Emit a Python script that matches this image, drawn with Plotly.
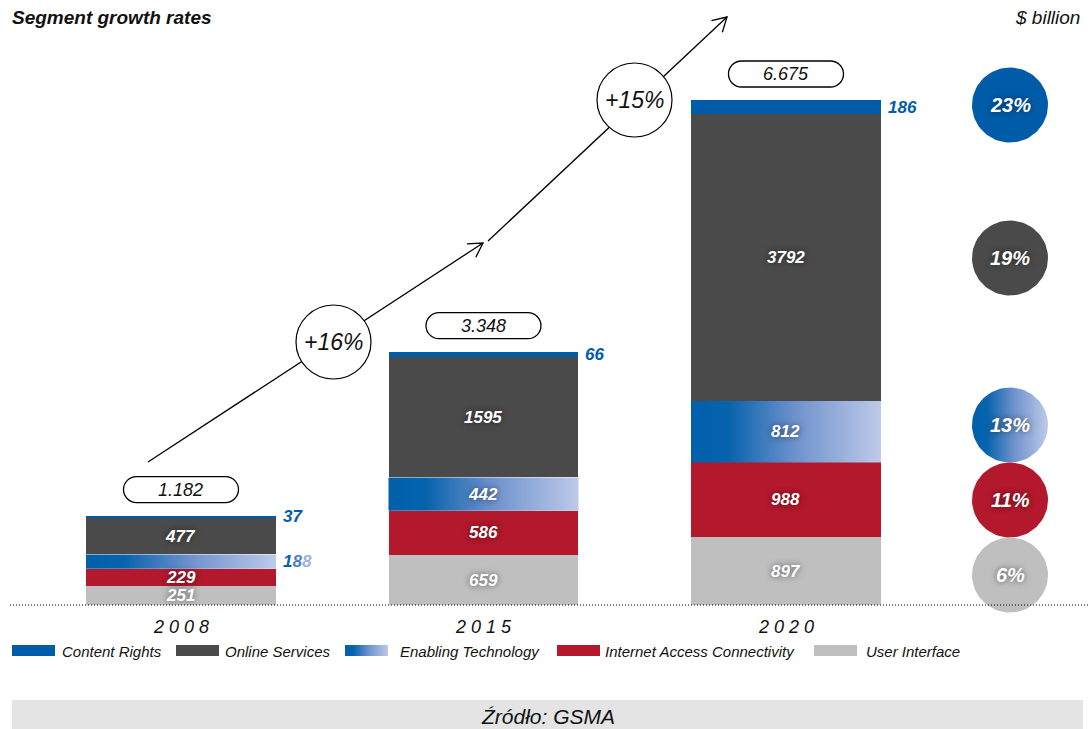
import numpy as np
import plotly.graph_objects as go

# ---- data ($ billion) ----
years = ["2 0 0 8", "2 0 1 5", "2 0 2 0"]
user_interface = [251, 659, 897]
internet_access = [229, 586, 988]
enabling_tech = [188, 442, 812]
online_services = [477, 1595, 3792]
content_rights = [37, 66, 186]

segment_names = ["Content Rights", "Online Services", "Enabling Technology",
                 "Internet Access Connectivity", "User Interface"]
segment_growth = ["23%", "19%", "13%", "11%", "6%"]
period_growth = ["+16%", "+15%"]

# ---- styles ----
BLUE = "#005CA9"
DARK = "#4A4A4A"
RED = "#B3182C"
GRAY = "#BFBFBF"
GRAD = [[0, "#0060AA"], [0.2, "#0863AD"], [0.55, "#6F92CD"], [1, "#BDC9E9"]]
FONT = "Liberation Sans, Arial, Helvetica, sans-serif"
GLOW = "0px 0px 6px rgba(0,0,0,0.55)"

W, H = 1088, 729
BAR_W = 0.628
xs = np.arange(len(years))
totals = [sum(v) for v in zip(user_interface, internet_access, enabling_tech,
                              online_services, content_rights)]

fig = go.Figure()

# stacked bars, bottom to top
stack = [
    ("User Interface", user_interface, GRAY),
    ("Internet Access Connectivity", internet_access, RED),
    ("Enabling Technology", enabling_tech, "rgba(0,0,0,0)"),
    ("Online Services", online_services, DARK),
    ("Content Rights", content_rights, BLUE),
]
for name, vals, col in stack:
    fig.add_trace(go.Bar(x=xs, y=vals, name=name, width=BAR_W,
                         marker=dict(color=col, line=dict(width=0)),
                         showlegend=False, hoverinfo="skip"))

# gradient fill for Enabling Technology segments
bases = np.array(user_interface) + np.array(internet_access)
for i in range(len(years)):
    b, v = bases[i], enabling_tech[i]
    x0, x1 = xs[i] - BAR_W / 2, xs[i] + BAR_W / 2
    fig.add_trace(go.Scatter(
        x=[x0, x1, x1, x0, x0], y=[b, b, b + v, b + v, b],
        mode="lines", fill="toself", line=dict(width=0, color="rgba(0,0,0,0)"),
        fillgradient=dict(type="horizontal", colorscale=GRAD),
        showlegend=False, hoverinfo="skip"))

annotations = []


def label(x, y, text, size=17, color="white", xref="x", yref="y",
          xanchor="center", weight="bold", style="italic", shadow=None, xshift=0):
    f = dict(family=FONT, size=size, color=color, weight=weight, style=style)
    if shadow:
        f["shadow"] = shadow
    annotations.append(dict(x=x, y=y, xref=xref, yref=yref, text=text,
                            showarrow=False, xanchor=xanchor, yanchor="middle",
                            font=f, xshift=xshift))


# value labels inside / beside segments
for i in range(len(years)):
    cum = 0
    for name, vals, _ in stack:
        v = vals[i]
        mid = cum + v / 2
        if name == "Content Rights":
            label(xs[i] + BAR_W / 2, mid, str(v), color=BLUE, xanchor="left", xshift=5)
        elif name == "Enabling Technology" and v < 300:
            digits = str(v)
            shades = ["#0A5FAA", "#4F7FC4", "#9DB2DE"]
            txt = "".join(f"<span style='color:{shades[k % 3]}'>{d}</span>"
                          for k, d in enumerate(digits))
            label(xs[i] + BAR_W / 2, mid, txt, color=BLUE, xanchor="left", xshift=5)
        else:
            label(xs[i], mid, str(v), shadow=GLOW)
        cum += v

# y-units per pixel, for placing the total pills above bars
YR = [-1639, 7997]
upp = (YR[1] - YR[0]) / H
xpp = 3.5967 / W

shapes = []


def pill_path(cx, cy, hw, hh, rx):
    k = 0.5523
    xr, xl = cx + hw - rx, cx - hw + rx
    p = f"M{xl},{cy + hh} L{xr},{cy + hh} "
    p += f"C{xr + k * rx},{cy + hh} {cx + hw},{cy + k * hh} {cx + hw},{cy} "
    p += f"C{cx + hw},{cy - k * hh} {xr + k * rx},{cy - hh} {xr},{cy - hh} "
    p += f"L{xl},{cy - hh} "
    p += f"C{xl - k * rx},{cy - hh} {cx - hw},{cy - k * hh} {cx - hw},{cy} "
    p += f"C{cx - hw},{cy + k * hh} {xl - k * rx},{cy + hh} {xl},{cy + hh} Z"
    return p


for i, t in enumerate(totals):
    cy = t + 26 * upp
    shapes.append(dict(type="path", xref="x", yref="y",
                       path=pill_path(xs[i], cy, 57.5 * xpp, 13 * upp, 13 * xpp),
                       line=dict(color="black", width=1.3), fillcolor="white"))
    label(xs[i], cy, f"{t / 1000:.3f}", size=18, color="#111", weight="normal")
    # year labels
    label(xs[i], 627, years[i], size=18, color="#111", weight="normal", yref="y2")

# baseline
shapes.append(dict(type="line", xref="x2", yref="y", x0=10, x1=W, y0=0, y1=0,
                   line=dict(color="black", width=1, dash="1px,2px")))


# growth arrows (pixel layer)
def arrow(x0, y0, x1, y1, head=16, ang=30):
    shapes.append(dict(type="line", xref="x2", yref="y2", x0=x0, y0=y0, x1=x1, y1=y1,
                       line=dict(color="black", width=1.3)))
    th = np.arctan2(y1 - y0, x1 - x0)
    pts = []
    for s in (-1, 1):
        a = th + np.pi + s * np.radians(ang)
        pts.append((x1 + head * np.cos(a), y1 + head * np.sin(a)))
    shapes.append(dict(type="path", xref="x2", yref="y2",
                       path=f"M{pts[0][0]},{pts[0][1]} L{x1},{y1} L{pts[1][0]},{pts[1][1]}",
                       line=dict(color="black", width=1.3)))


arrow(148, 462, 483, 243)
arrow(488, 241, 727, 17)

for (cx, cy), txt in zip([(333.5, 342), (634.5, 100)], period_growth):
    shapes.append(dict(type="circle", xref="x2", yref="y2",
                       x0=cx - 37.5, x1=cx + 37.5, y0=cy - 37, y1=cy + 37,
                       line=dict(color="black", width=1.2), fillcolor="white"))
    label(cx, cy, txt, size=23, color="#111", weight="normal", xref="x2", yref="y2")

# segment growth circles on the right
circ_cy = [105, 258, 425, 500, 575]
circ_fill = [BLUE, DARK, None, RED, GRAY]
t = np.linspace(0, 2 * np.pi, 90)
for cy, col, txt in zip(circ_cy, circ_fill, segment_growth):
    ex = 1010 + 38 * np.cos(t)
    ey = cy + 37.5 * np.sin(t)
    kw = dict(fillcolor=col) if col else dict(
        fillgradient=dict(type="horizontal", colorscale=GRAD))
    fig.add_trace(go.Scatter(x=ex, y=ey, xaxis="x2", yaxis="y2", mode="lines",
                             fill="toself", line=dict(width=0, color="rgba(0,0,0,0)"),
                             showlegend=False, hoverinfo="skip", **kw))
    label(1010, cy, txt, size=20, xref="x2", yref="y2", shadow=GLOW)

# custom legend
sw_x = [12, 176, 345, 557, 814]
tx_x = [60, 223, 398, 603, 864]
sw_col = [BLUE, DARK, None, RED, GRAY]
for sx, tx, col, name in zip(sw_x, tx_x, sw_col, segment_names):
    if col:
        shapes.append(dict(type="rect", xref="x2", yref="y2", x0=sx, x1=sx + 43,
                           y0=645, y1=656, fillcolor=col, line=dict(width=0)))
    else:
        fig.add_trace(go.Scatter(x=[sx, sx + 43, sx + 43, sx, sx],
                                 y=[645, 645, 656, 656, 645], xaxis="x2", yaxis="y2",
                                 mode="lines", fill="toself",
                                 line=dict(width=0, color="rgba(0,0,0,0)"),
                                 fillgradient=dict(type="horizontal", colorscale=GRAD),
                                 showlegend=False, hoverinfo="skip"))
    label(tx, 651, name, size=15, color="#111", weight="normal",
          xref="x2", yref="y2", xanchor="left")

# source bar
shapes.append(dict(type="rect", xref="x2", yref="y2", x0=12, x1=1083, y0=700, y1=729,
                   fillcolor="#E4E4E4", line=dict(width=0), layer="below"))
label(548, 716, "Źródło: GSMA", size=21, color="#111", weight="normal",
      xref="x2", yref="y2")

# headings
label(10, 17, "Segment growth rates", size=19, color="#111", xref="x2", yref="y2",
      xanchor="left")
annotations.append(dict(x=1082, y=17, xref="x2", yref="y2", text="$ billion",
                        showarrow=False, xanchor="right", yanchor="middle",
                        font=dict(family=FONT, size=19, color="#111", style="italic")))

fig.update_layout(
    width=W, height=H, margin=dict(l=0, r=0, t=0, b=0),
    paper_bgcolor="white", plot_bgcolor="white",
    barmode="stack", showlegend=False,
    xaxis=dict(range=[-0.5983, 2.9984], visible=False, fixedrange=True),
    yaxis=dict(range=YR, visible=False, fixedrange=True),
    xaxis2=dict(range=[0, W], overlaying="x", visible=False, fixedrange=True),
    yaxis2=dict(range=[H, 0], overlaying="y", visible=False, fixedrange=True),
    shapes=shapes, annotations=annotations,
)

fig.write_html("out.html", config={"displayModeBar": False})
